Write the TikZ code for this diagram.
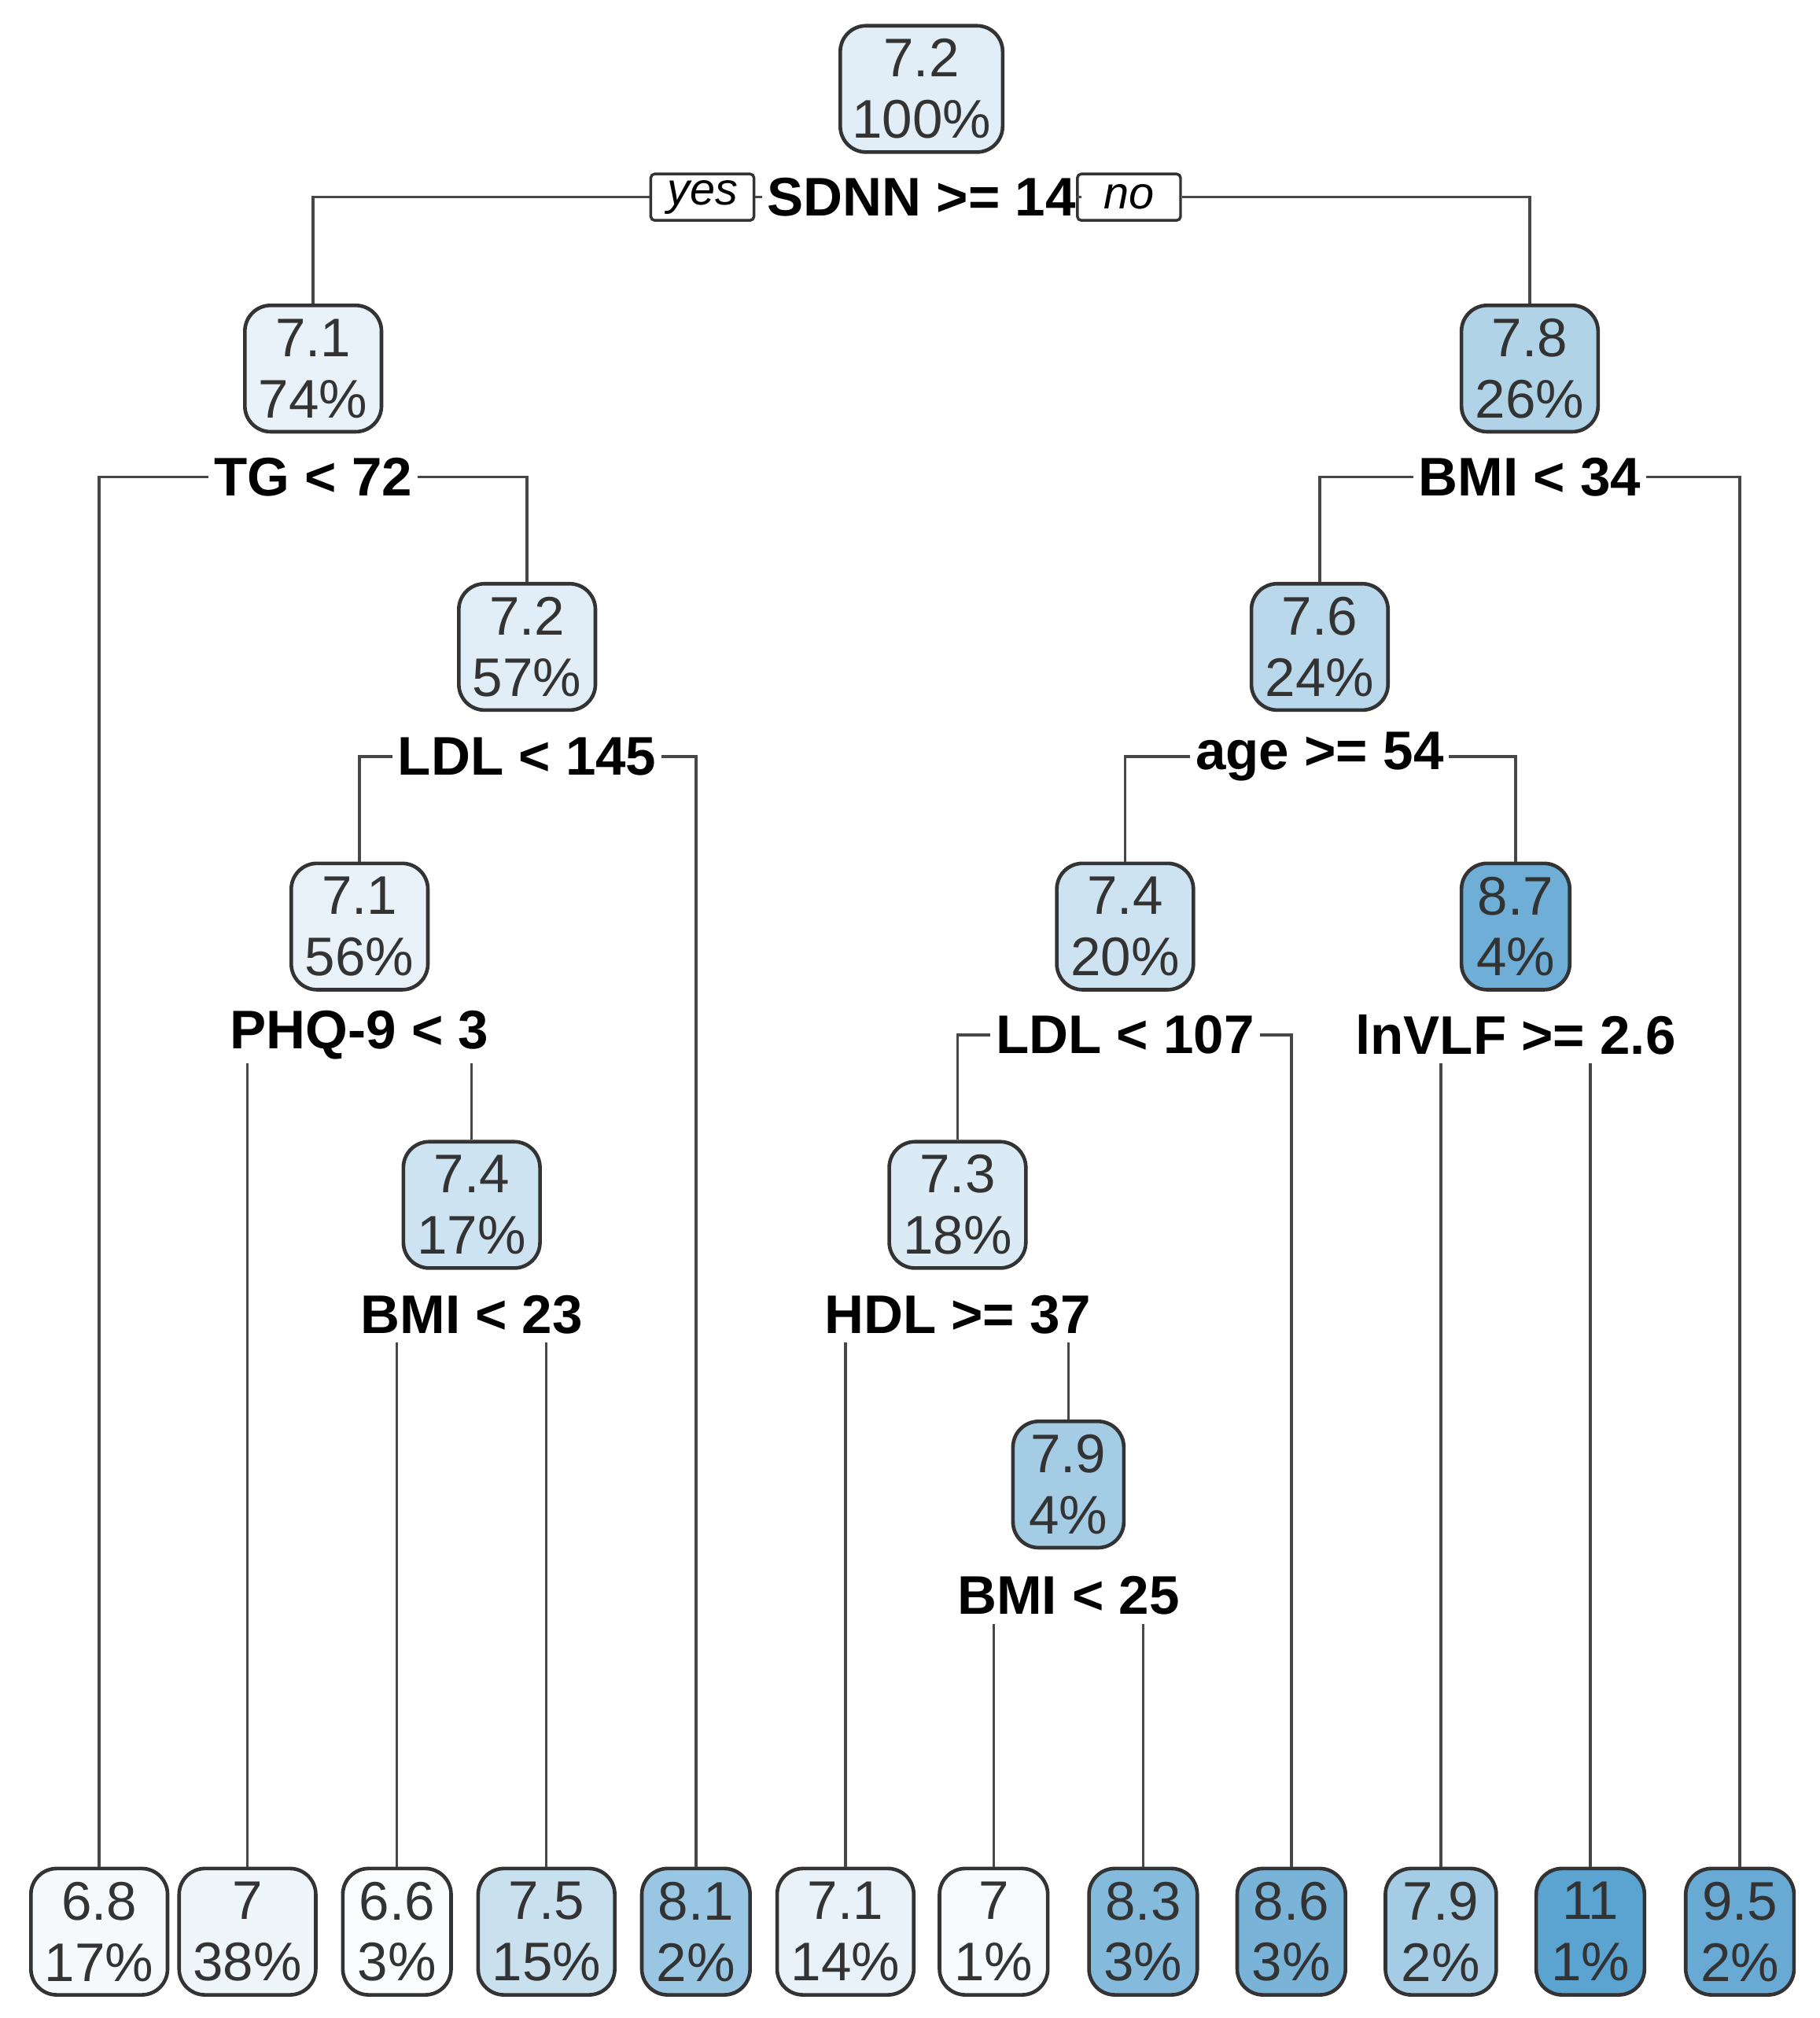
\documentclass[tikz,border=0pt]{standalone}
\usepackage{fontspec}
\setmainfont{Liberation Sans}
\definecolor{bl}{HTML}{5BA3D0}
\definecolor{bd}{HTML}{333333}
\begin{document}
\begin{tikzpicture}[x=0.01cm,y=-0.01cm,
  box/.style={draw=bd,line width=0.8pt,rounded corners=0.2cm,minimum height=0.98cm,inner sep=0pt,align=center,font=\fontsize{12}{13.5}\selectfont,text=black!80},
  lab/.style={font=\fontsize{12}{14}\selectfont\bfseries,inner sep=1pt,fill=white},
  yn/.style={draw=bd,line width=0.6pt,rounded corners=0.03cm,font=\fontsize{10}{12}\selectfont\itshape,minimum width=0.8cm,minimum height=0.36cm,inner sep=1pt},
  ln/.style={draw=bd!90,line width=0.6pt}]
\useasboundingbox (0,0) rectangle (1412,1566);
\newcommand\tn[7]{\node[box,minimum width=#4*0.01cm,fill=bl!#5!white] (#1) at (#2,#3+49) {#6\\#7};}
% internal nodes
\tn{r}{715}{20}{126}{18}{7.2}{100\%}
\tn{a}{243}{237}{106}{14}{7.1}{74\%}
\tn{b}{1187}{237}{106}{48}{7.8}{26\%}
\tn{c}{409}{453}{106}{18}{7.2}{57\%}
\tn{d}{279}{670}{106}{14}{7.1}{56\%}
\tn{e}{366}{886}{106}{30}{7.4}{17\%}
\tn{f}{1024}{453}{106}{42}{7.6}{24\%}
\tn{g}{873}{670}{106}{30}{7.4}{20\%}
\tn{h}{1176}{670}{84}{88}{8.7}{4\%}
\tn{i}{743}{886}{106}{22}{7.3}{18\%}
\tn{j}{829}{1103}{86}{55}{7.9}{4\%}
% leaves
\tn{l1}{77}{1450}{106}{5}{6.8}{17\%}
\tn{l2}{192}{1450}{106}{10}{7}{38\%}
\tn{l3}{308}{1450}{84}{3}{6.6}{3\%}
\tn{l4}{424}{1450}{106}{33}{7.5}{15\%}
\tn{l5}{540}{1450}{84}{62}{8.1}{2\%}
\tn{l6}{656}{1450}{106}{14}{7.1}{14\%}
\tn{l7}{771}{1450}{84}{4}{7}{1\%}
\tn{l8}{887}{1450}{84}{75}{8.3}{3\%}
\tn{l9}{1002}{1450}{84}{82}{8.6}{3\%}
\tn{l10}{1118}{1450}{86}{55}{7.9}{2\%}
\tn{l11}{1234}{1450}{84}{100}{11}{1\%}
\tn{l12}{1350}{1450}{84}{92}{9.5}{2\%}
% split labels
\node[lab] (sr) at (715,153) {SDNN >= 14};
\node[yn] (yes) at (545,153) {yes};
\node[yn] (no) at (876,153) {no};
\node[lab] (sa) at (243,370) {TG < 72};
\node[lab] (sb) at (1187,370) {BMI < 34};
\node[lab] (sc) at (409,587) {LDL < 145};
\node[lab] (sd) at (279,803) {PHQ-9 < 3};
\node[lab] (se) at (366,1020) {BMI < 23};
\node[lab] (sf) at (1024,587) {age >= 54};
\node[lab] (sg) at (873,803) {LDL < 107};
\node[lab] (sh) at (1176,803) {lnVLF >= 2.6};
\node[lab] (si) at (743,1020) {HDL >= 37};
\node[lab] (sj) at (829,1238) {BMI < 25};
% connectors
\draw[ln] (sr.west) -- (yes.east);
\draw[ln] (yes.west) -| (a.north);
\draw[ln] (sr.east) -- (no.west);
\draw[ln] (no.east) -| (b.north);
\draw[ln] (sa.west) -| (l1.north);
\draw[ln] (sa.east) -| (c.north);
\draw[ln] (sb.west) -| (f.north);
\draw[ln] (sb.east) -| (l12.north);
\draw[ln] (sc.west) -| (d.north);
\draw[ln] (sc.east) -| (l5.north);
\draw[ln] (sf.west) -| (g.north);
\draw[ln] (sf.east) -| (h.north);
\draw[ln] (sg.west) -| (i.north);
\draw[ln] (sg.east) -| (l9.north);
\coordinate (d1) at (192,825); \coordinate (d2) at (366,825);
\draw[ln] (d1) -- (l2.north); \draw[ln] (d2) -- (e.north);
\coordinate (e1) at (308,1042); \coordinate (e2) at (424,1042);
\draw[ln] (e1) -- (l3.north); \draw[ln] (e2) -- (l4.north);
\coordinate (h1) at (1118,825); \coordinate (h2) at (1234,825);
\draw[ln] (h1) -- (l10.north); \draw[ln] (h2) -- (l11.north);
\coordinate (i1) at (656,1042); \coordinate (i2) at (829,1042);
\draw[ln] (i1) -- (l6.north); \draw[ln] (i2) -- (j.north);
\coordinate (j1) at (771,1260); \coordinate (j2) at (887,1260);
\draw[ln] (j1) -- (l7.north); \draw[ln] (j2) -- (l8.north);
\end{tikzpicture}
\end{document}
